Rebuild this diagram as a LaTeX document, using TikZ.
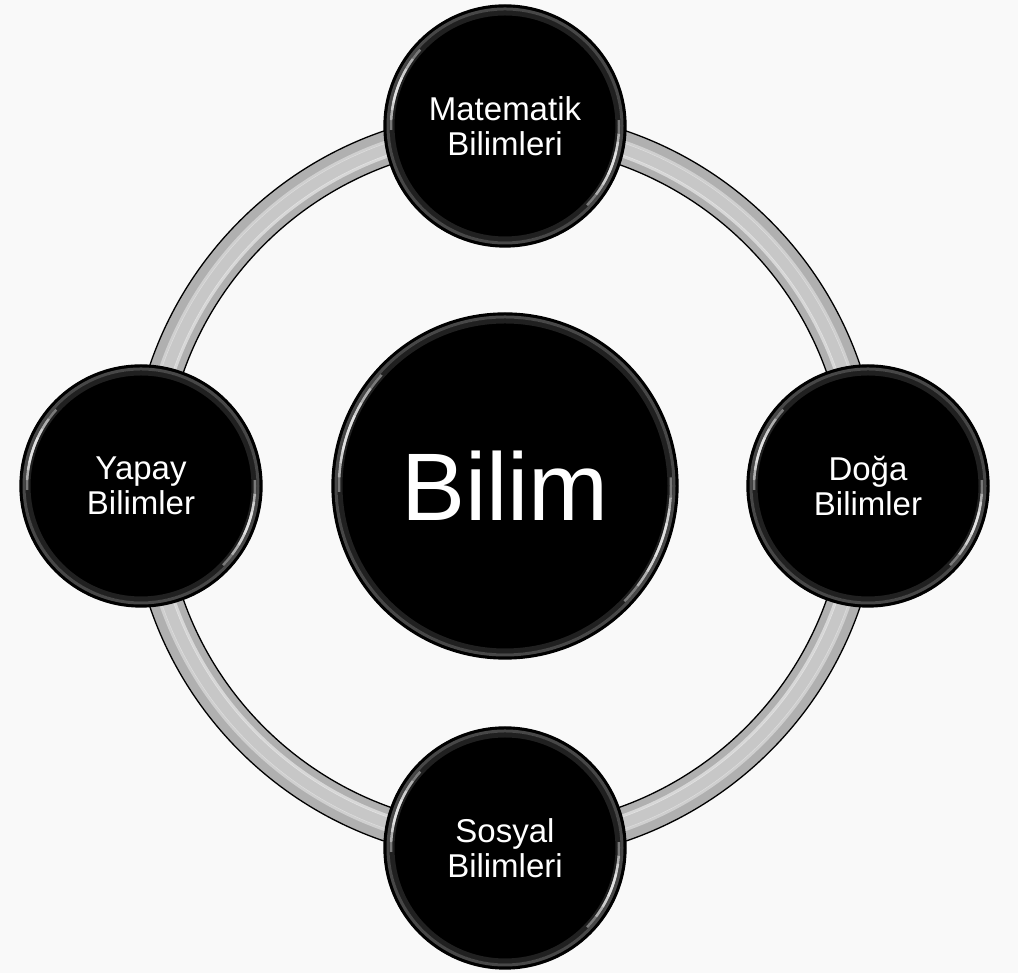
\documentclass[tikz,border=0pt]{standalone}
\usepackage{fontspec}
\setmainfont{Liberation Sans}
\definecolor{bg}{HTML}{F9F9F9}
\definecolor{ringgray}{HTML}{B0B0B0}
\newcommand\glossnode[2]{%
 \begin{scope}[shift={(#1.center)}]
  \draw[gray!60, opacity=.4, line width=3pt] (0,0) circle[radius={#2-4}];
  \draw[gray!60, opacity=.18, line width=5pt] (0,0) circle[radius={#2-8}];
  \foreach \a/\b in {138/182,144/177,150/172,155/168}{%
    \draw[white, opacity=.4, line width=2.5pt] (\a:{#2-7}) arc[start angle=\a, end angle=\b, radius={#2-7}];}
  \foreach \a/\b in {-44/3,-37/-4,-31/-8,-25/-13}{%
    \draw[white, opacity=.4, line width=2.5pt] (\a:{#2-7}) arc[start angle=\a, end angle=\b, radius={#2-7}];}
 \end{scope}}
\begin{document}
\begin{tikzpicture}[x=1pt,y=1pt,
  ball/.style={circle, fill=black, draw=black, line width=1.3pt, text=white, align=center, inner sep=0pt},
  small/.style={ball, minimum size=242pt, font=\fontsize{33}{35}\selectfont},
  big/.style={ball, minimum size=346pt, font=\fontsize{96}{100}\selectfont},
  ringedge/.style={draw=black, line width=1.3pt}]
\fill[bg] (0,0) rectangle (1018,973);
\useasboundingbox (0,0) rectangle (1018,973);
\coordinate (o) at (505,487);
% ring
\fill[ringgray, even odd rule] (o) circle[radius=375] (o) circle[radius=341];
\draw[white, opacity=.3, line width=12pt] (o) circle[radius=357];
\draw[white, opacity=.5, line width=3pt] (o) circle[radius=350];
\draw[white, opacity=.4, line width=3pt] (o) circle[radius=364];
\draw[ringedge] (o) circle[radius=375] (o) circle[radius=341];
% nodes
\node[big] (bil) at (505,487) {Bilim};
\node[small] (mat) at (505,847) {Matematik\\Bilimleri};
\node[small] (dog) at (868,487) {Doğa\\Bilimler};
\node[small] (sos) at (505,125) {Sosyal\\Bilimleri};
\node[small] (yap) at (141,487) {Yapay\\Bilimler};
\glossnode{bil}{173}
\glossnode{mat}{121}
\glossnode{dog}{121}
\glossnode{sos}{121}
\glossnode{yap}{121}
\end{tikzpicture}
\end{document}
